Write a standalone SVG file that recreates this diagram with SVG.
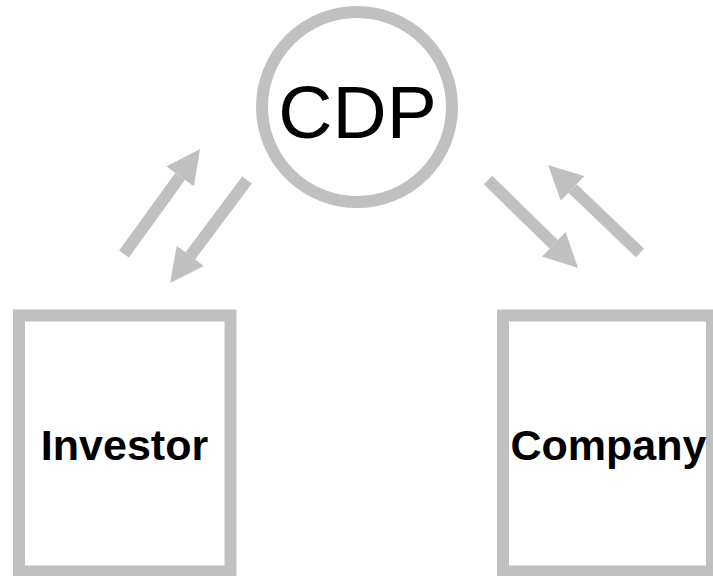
<svg xmlns="http://www.w3.org/2000/svg" width="713" height="576" viewBox="0 0 713 576">
<style>
.shape{fill:#ffffff;stroke:#c0c0c0;stroke-width:12}
.conn{stroke:#c0c0c0;stroke-width:12;fill:none;marker-end:url(#head)}
.lbl{font-family:"Liberation Sans",Arial,sans-serif;fill:#000000;text-anchor:middle}
</style>
<defs>
<marker id="head" markerUnits="userSpaceOnUse" markerWidth="34" markerHeight="34" viewBox="0 0 34 34" refX="0" refY="17" orient="auto">
<path d="M0,0 L34,17 L0,34 z" fill="#c0c0c0"/>
</marker>
</defs>
<rect width="713" height="576" fill="#ffffff"/>
<g id="connectors">
<line class="conn" x1="124" y1="254" x2="180.1" y2="176.5"/>
<line class="conn" x1="247" y1="180" x2="190.4" y2="255.8"/>
<line class="conn" x1="488" y1="180" x2="553.7" y2="244.2"/>
<line class="conn" x1="640" y1="253" x2="572.6" y2="188.5"/>
</g>
<g id="cdp">
<circle class="shape" cx="357" cy="107" r="95"/>
<text class="lbl" x="357.5" y="138" font-size="75">CDP</text>
</g>
<g id="investor">
<rect class="shape" x="19" y="315.5" width="211.5" height="256"/>
<text class="lbl" x="124.5" y="460" font-size="43" font-weight="bold">Investor</text>
</g>
<g id="company">
<rect class="shape" x="503" y="315.5" width="209" height="256"/>
<text class="lbl" x="608.5" y="460" font-size="43" font-weight="bold">Company</text>
</g>
</svg>
